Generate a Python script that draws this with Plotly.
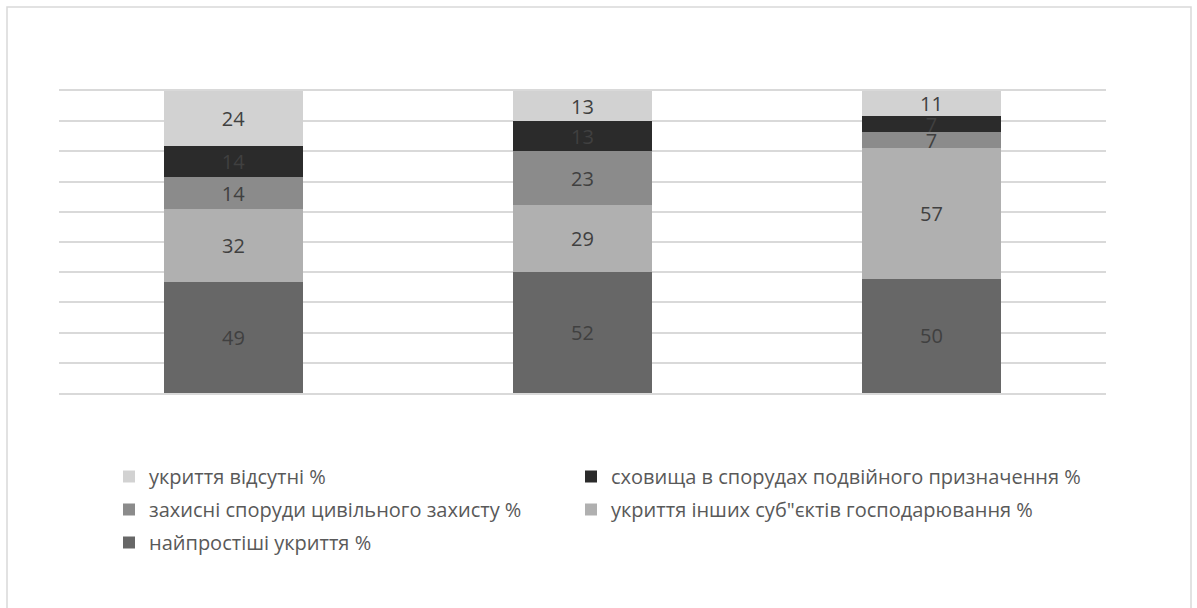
import plotly.graph_objects as go

categories = ["1", "2", "3"]
series_names = [
    "найпростіші укриття %",
    "укриття інших суб\"єктів господарювання %",
    "захисні споруди цивільного захисту %",
    "сховища в спорудах подвійного призначення %",
    "укриття відсутні %",
]
najprostishi = [49, 52, 50]
inshyh = [32, 29, 57]
zahysni = [14, 23, 7]
shovyshcha = [14, 13, 7]
vidsutni = [24, 13, 11]
series_values = [najprostishi, inshyh, zahysni, shovyshcha, vidsutni]
colors = ["#676767", "#b0b0b0", "#8b8b8b", "#2b2b2b", "#d2d2d2"]
legend_ids = ["legend", "legend2", "legend", "legend2", "legend"]
legend_ranks = [3, 2, 2, 1, 1]

FONT = "Open Sans"
fig = go.Figure()
for i, (name, vals, col, lg, rk) in enumerate(
        zip(series_names, series_values, colors, legend_ids, legend_ranks)):
    fig.add_trace(go.Bar(
        x=categories, y=vals, name=name,
        legend=lg, legendgroup="g%d" % i, legendrank=rk,
        marker=dict(color=col, line=dict(width=0)),
        text=[str(v) for v in vals],
        textposition="inside", insidetextanchor="middle",
        textangle=0, constraintext="none",
        textfont=dict(family=FONT, size=20, color="#404040"),
        hoverinfo="skip",
    ))

W, H = 1197, 608
L, R, T, B = 59, 91, 91, 215
pw, ph = W - L - R, H - T - B

legend_common = dict(orientation="v", traceorder="grouped",
                     tracegroupgap=4, xanchor="left", yanchor="top",
                     y=(393 - 457) / ph,
                     font=dict(family=FONT, size=20, color="#595959"),
                     bgcolor="rgba(0,0,0,0)")

fig.update_layout(
    barmode="stack", barnorm="percent", bargap=0.6,
    width=W, height=H,
    margin=dict(l=L, r=R, t=T, b=B, pad=0),
    paper_bgcolor="white", plot_bgcolor="white",
    font=dict(family=FONT, size=20, color="#595959"),
    xaxis=dict(showticklabels=False, showgrid=False, zeroline=False,
               showline=True, mirror=True, linecolor="#d9d9d9", linewidth=1.5,
               ticks=""),
    yaxis=dict(range=[0, 100], dtick=10, showticklabels=False,
               showgrid=True, gridcolor="#d9d9d9", gridwidth=1.5,
               zeroline=False, showline=False, ticks=""),
    legend=dict(x=(109 - L) / pw, **legend_common),
    legend2=dict(x=(571 - L) / pw, **legend_common),
    showlegend=True,
    shapes=[dict(type="rect", xref="paper", yref="paper",
                 x0=(7 - L) / pw, x1=(1191 - L) / pw,
                 y0=(393 - 630) / ph, y1=(393 - 7) / ph,
                 line=dict(color="#d9d9d9", width=1.5),
                 fillcolor="rgba(0,0,0,0)", layer="below")],
)

fig.write_html("out.html", config={"displayModeBar": False},
               post_script="document.body.style.margin='0';")
